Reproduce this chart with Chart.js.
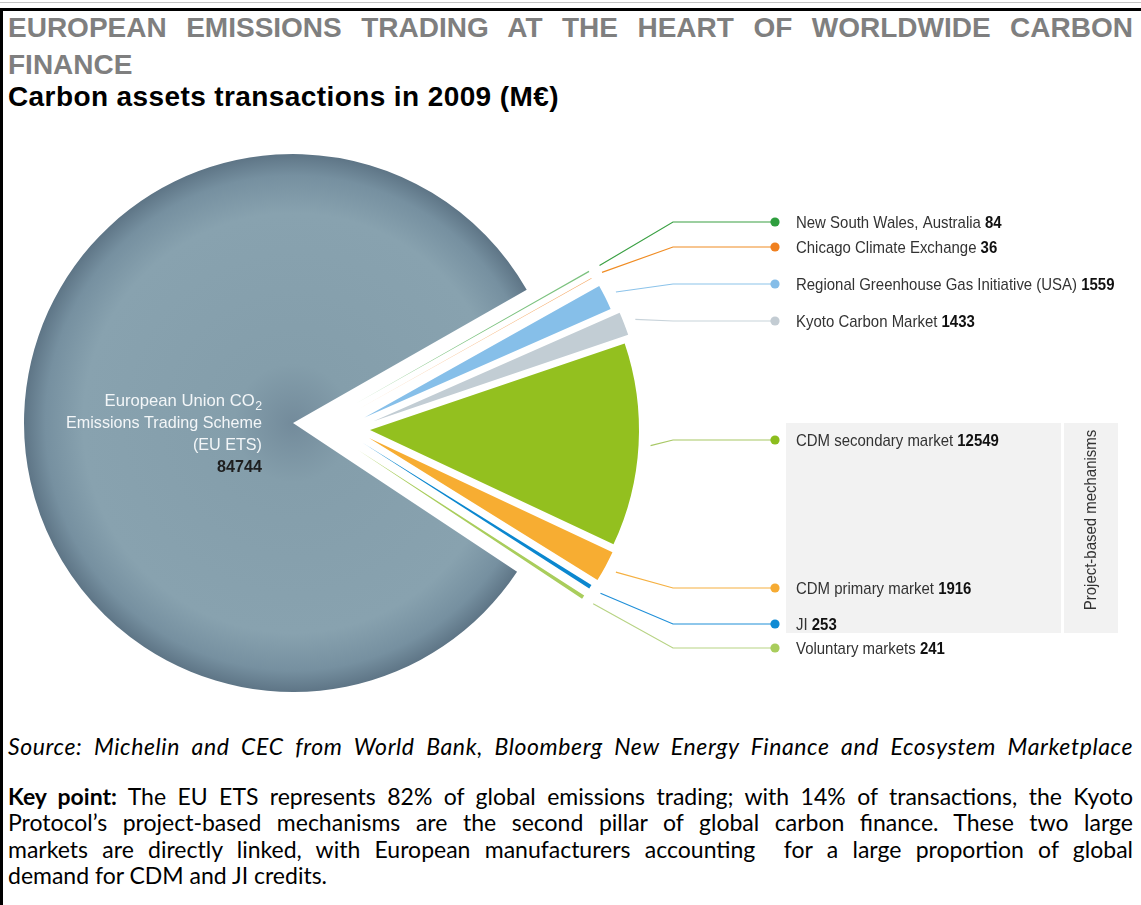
<!DOCTYPE html>
<html>
<head>
<meta charset="utf-8">
<script src="https://cdn.jsdelivr.net/npm/chart.js"></script>
<style>
  body {
    margin: 0;
    width: 1141px;
    height: 905px;
    position: relative;
    overflow: hidden;
    background: #fff;
    font-family: "Liberation Sans", Arial, sans-serif;
  }

  .topline {
    position: absolute;
    left: 0;
    top: 2px;
    width: 1141px;
    height: 1px;
    background: #c4c4c4;
  }

  .frame {
    position: absolute;
    left: 0;
    top: 8px;
    width: 1180px;
    height: 940px;
    border-top: 3px solid #000;
    border-left: 3px solid #000;
  }

  .title {
    position: absolute;
    left: 8px;
    top: 9px;
    width: 1125px;
    font-weight: bold;
    font-size: 28px;
    line-height: 37px;
    color: #7f7f7f;
  }

  .title .l1 {
    text-align: justify;
    text-align-last: justify;
  }

  .sub {
    position: absolute;
    left: 8px;
    top: 81px;
    font-weight: bold;
    font-size: 28px;
    line-height: 32px;
    letter-spacing: 0.4px;
    color: #000;
  }

  #wrap {
    position: absolute;
    left: 0;
    top: 130px;
    width: 1141px;
    height: 600px;
  }

  .source,
  .key {
    position: absolute;
    left: 8px;
    width: 1125px;
    font-family: Lato, "Open Sans", sans-serif;
    font-size: 23px;
    color: #000;
  }

  .source {
    top: 733px;
    line-height: 26px;
    font-style: italic;
    letter-spacing: 0.6px;
    text-align: justify;
    text-align-last: justify;
  }

  .key {
    top: 783px;
    line-height: 26.4px;
  }

  .key div {
    text-align: justify;
    text-align-last: justify;
  }

  .key div.last {
    text-align-last: left;
  }
</style>
</head>
<body>
<div class="topline"></div>
<div class="frame"></div>
<div class="title">
  <div class="l1">EUROPEAN EMISSIONS TRADING AT THE HEART OF WORLDWIDE CARBON</div>
  <div>FINANCE</div>
</div>
<div class="sub">Carbon assets transactions in 2009 (M€)</div>
<div id="wrap"><canvas id="chart"></canvas></div>
<div class="source">Source: Michelin and CEC from World Bank, Bloomberg New Energy Finance and Ecosystem Marketplace</div>
<div class="key">
  <div><b>Key point:</b> The EU ETS represents 82% of global emissions trading; with 14% of transactions, the Kyoto</div>
  <div>Protocol’s project-based mechanisms are the second pillar of global carbon finance. These two large</div>
  <div>markets are directly linked, with European manufacturers accounting&nbsp; for a large proportion of global</div>
  <div class="last">demand for CDM and JI credits.</div>
</div>

<script>
  // data (M€, 2009)
  const markets = ['European Union CO2 Emissions Trading Scheme (EU ETS)', 'New South Wales, Australia', 'Chicago Climate Exchange',
    'Regional Greenhouse Gas Initiative (USA)', 'Kyoto Carbon Market', 'CDM secondary market', 'CDM primary market', 'JI', 'Voluntary markets'];
  const amounts = [84744, 84, 36, 1559, 1433, 12549, 1916, 253, 241];

  // styling
  const sliceColors = ['#86a0ad', '#7cc27f', '#f4a25a', '#86bfe9', '#c2cdd4', '#93c01f', '#f7ad32', '#0b87cf', '#a9cd5c'];
  const lineColors = [null, '#3aa043', '#f08c23', '#8cc3ea', '#c8d3da', '#a8c865', '#f5b041', '#1f8fd8', '#b7d384'];
  const dotColors = [null, '#2e9e3e', '#f08020', '#85bde8', '#c3ccd3', '#8cbd1e', '#f6ab33', '#0f8bd4', '#a9cd5c'];
  // exploded pieces: shift of each slice away from the pie centre (px)
  const sliceShift = [[-37, -3], [25, -22], [27, -16], [34.5, -8.5], [43.5, -4.7], [40, 4], [39, 12], [33, 17], [28, 24]];
  const labelY = [null, 222, 247, 284, 321, 440, 588, 624, 648]; // page y of each callout
  const TOP = 130; // canvas top on the page

  function sText(ctx, str, x, y, font, color, sx, align) {
    ctx.save();
    ctx.font = font;
    const w = ctx.measureText(str).width * sx;
    const x0 = align === 'right' ? x - w : x;
    ctx.translate(x0, y);
    ctx.scale(sx, 1);
    ctx.fillStyle = color;
    ctx.textAlign = 'left';
    ctx.textBaseline = 'alphabetic';
    ctx.fillText(str, 0, 0);
    ctx.restore();
    return w;
  }

  function euFill(c) {
    const chart = c.chart;
    if (c.dataIndex !== 0) return sliceColors[c.dataIndex];
    const a = chart.chartArea;
    if (!a) return sliceColors[0];
    const cx = (a.left + a.right) / 2, cy = (a.top + a.bottom) / 2;
    const g = chart.ctx.createRadialGradient(cx, cy, 0, cx, cy, 269);
    g.addColorStop(0, '#738b9b');
    g.addColorStop(0.22, '#849eab');
    g.addColorStop(0.78, '#88a2af');
    g.addColorStop(0.92, '#7690a0');
    g.addColorStop(1, '#5e7586');
    return g;
  }

  const pieParts = {
    id: 'pieParts',
    beforeDraw(chart) {
      const ctx = chart.ctx;
      ctx.save();
      ctx.fillStyle = '#f2f2f2';
      ctx.fillRect(786, 423 - TOP, 275, 210);
      ctx.fillRect(1064, 423 - TOP, 54, 210);
      ctx.restore();
    },
    beforeDatasetsDraw(chart) {
      const ctx = chart.ctx;
      chart.getDatasetMeta(0).data.forEach((arc, i) => {
        ctx.save();
        ctx.translate(sliceShift[i][0], sliceShift[i][1]);
        arc.draw(ctx);
        ctx.restore();
      });
      return false;
    },
    afterDraw(chart) {
      const ctx = chart.ctx;
      const meta = chart.getDatasetMeta(0);
      const f = '"Liberation Sans", Arial, sans-serif';

      // callouts
      meta.data.forEach((arc, i) => {
        if (i === 0) return;
        const mid = (arc.startAngle + arc.endAngle) / 2;
        const r = arc.outerRadius + 12;
        const sx = arc.x + sliceShift[i][0] + Math.cos(mid) * r;
        const sy = arc.y + sliceShift[i][1] + Math.sin(mid) * r;
        const y = labelY[i] - TOP;
        ctx.save();
        ctx.strokeStyle = lineColors[i];
        ctx.lineWidth = 1.2;
        ctx.beginPath();
        ctx.moveTo(sx, sy);
        ctx.lineTo(673, y);
        ctx.lineTo(775, y);
        ctx.stroke();
        ctx.fillStyle = dotColors[i];
        ctx.beginPath();
        ctx.arc(775, y, 4.6, 0, Math.PI * 2);
        ctx.fill();
        ctx.restore();
        const w = sText(ctx, markets[i] + ' ', 796, y + 6, '17px ' + f, '#333', 0.88);
        sText(ctx, String(amounts[i]), 796 + w, y + 6, 'bold 17px ' + f, '#111', 0.88);
      });

      // EU label inside the big slice
      const ex = 262;
      ctx.save();
      ctx.font = '13px ' + f;
      const w2 = ctx.measureText('2').width * 0.95;
      ctx.restore();
      sText(ctx, '2', ex, 410 - TOP, '13px ' + f, '#f3f6f8', 0.95, 'right');
      sText(ctx, 'European Union CO', ex - w2 - 0.5, 406 - TOP, '17px ' + f, '#f3f6f8', 0.98, 'right');
      sText(ctx, 'Emissions Trading Scheme', ex, 428 - TOP, '17px ' + f, '#f3f6f8', 0.95, 'right');
      sText(ctx, '(EU ETS)', ex, 450 - TOP, '17px ' + f, '#f3f6f8', 0.95, 'right');
      sText(ctx, String(amounts[0]), ex, 472 - TOP, 'bold 17px ' + f, '#1e1e1e', 0.95, 'right');

      // side caption
      ctx.save();
      ctx.translate(1091, 520 - TOP);
      ctx.rotate(-Math.PI / 2);
      ctx.scale(0.88, 1);
      ctx.font = '17px ' + f;
      ctx.fillStyle = '#333';
      ctx.textAlign = 'center';
      ctx.textBaseline = 'middle';
      ctx.fillText('Project-based mechanisms', 0, 0);
      ctx.restore();
    }
  };

  new Chart(document.getElementById('chart').getContext('2d'), {
    type: 'pie',
    data: {
      labels: markets,
      datasets: [{
        data: amounts,
        backgroundColor: euFill,
        borderWidth: 0,
        hoverOffset: 0
      }]
    },
    options: {
      responsive: true,
      maintainAspectRatio: false,
      animation: false,
      events: [],
      rotation: 123.6,
      radius: 269,
      layout: {
        padding: { left: 50, right: 531, top: 16, bottom: 24 }
      },
      plugins: {
        legend: { display: false },
        tooltip: { enabled: false }
      }
    },
    plugins: [pieParts]
  });
</script>
</body>
</html>
